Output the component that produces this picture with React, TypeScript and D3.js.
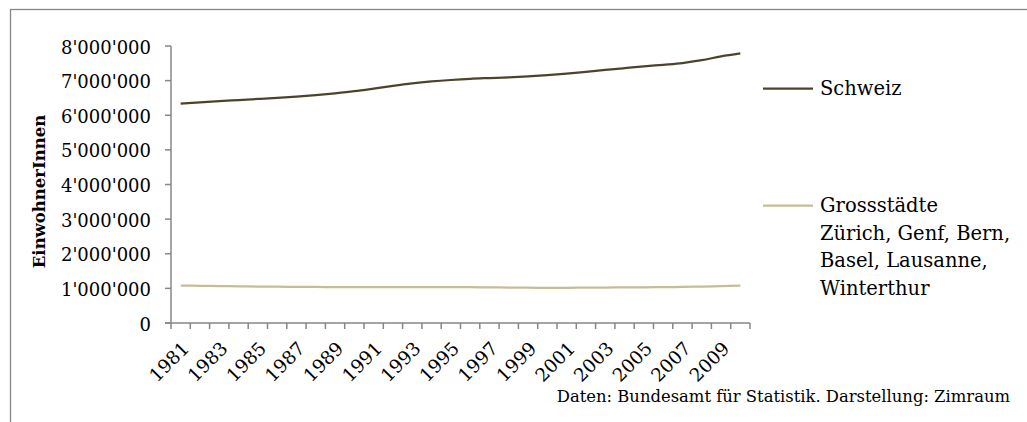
import React from "react";
import * as d3 from "d3";

// Swiss population vs. the six largest cities, 1981–2010
const years: string[] = [
  "1981", "1982", "1983", "1984", "1985", "1986", "1987", "1988", "1989", "1990",
  "1991", "1992", "1993", "1994", "1995", "1996", "1997", "1998", "1999", "2000",
  "2001", "2002", "2003", "2004", "2005", "2006", "2007", "2008", "2009", "2010",
];

const schweiz: number[] = [
  6335000, 6373000, 6408000, 6440000, 6470000, 6503000, 6540000, 6583000, 6635000, 6695000,
  6770000, 6850000, 6920000, 6975000, 7018000, 7052000, 7074000, 7094000, 7122000, 7160000,
  7202000, 7252000, 7308000, 7360000, 7412000, 7458000, 7508000, 7590000, 7700000, 7786000,
];

const grossstaedte: number[] = [
  1080000, 1074000, 1067000, 1060000, 1053000, 1048000, 1044000, 1041000, 1038000, 1036000,
  1035000, 1034000, 1034000, 1034000, 1034000, 1034000, 1030000, 1024000, 1019000, 1017000,
  1018000, 1021000, 1024000, 1027000, 1030000, 1035000, 1042000, 1052000, 1064000, 1078000,
];

const yTicks: number[] = [0, 1000000, 2000000, 3000000, 4000000, 5000000, 6000000, 7000000, 8000000];
const xLabelYears: string[] = years.filter((_, i) => i % 2 === 0);

const seriesNames = ["Schweiz", "Grossstädte"];
const legendLines: string[][] = [
  ["Schweiz"],
  ["Grossstädte", "Zürich, Genf, Bern,", "Basel, Lausanne,", "Winterthur"],
];
const yTitle = "EinwohnerInnen";
const sourceNote = "Daten: Bundesamt für Statistik. Darstellung: Zimraum";

const W = 1027;
const H = 422;
const plot = { left: 171, right: 750, top: 46, bottom: 323 };
const colors = ["#4a452a", "#c4bd97"];
const axisColor = "#878787";
const font = "'DejaVu Serif', serif";

const swissFormat = d3.formatLocale({
  decimal: ".",
  thousands: "'",
  grouping: [3],
  currency: ["", ""],
}).format(",");

export default function App() {
  const x = d3.scaleBand<string>().domain(years).range([plot.left, plot.right]).padding(0);
  const y = d3.scaleLinear().domain([0, 8000000]).range([plot.bottom, plot.top]);
  const cx = (yr: string) => (x(yr) as number) + x.bandwidth() / 2;

  const line = d3
    .line<number>()
    .x((_, i) => cx(years[i]))
    .y((v) => y(v))
    .curve(d3.curveCatmullRom.alpha(0.5));

  const series = [schweiz, grossstaedte];
  const boundaries = d3.range(years.length + 1).map((i) => plot.left + i * x.bandwidth());

  const legendX = 763;
  const legendLineLen = 50;
  const legendY = [88.5, 205.5];
  const lineGap = 27.7;

  return (
    <svg
      width={W}
      height={H}
      style={{ position: "absolute", left: 0, top: 0, background: "#fff" }}
      fontFamily={font}
    >
      {/* chart frame */}
      <rect x={10.5} y={9.5} width={W + 20} height={H + 20} fill="none" stroke={axisColor} strokeWidth={1.3} />

      {/* y axis */}
      <line x1={plot.left} x2={plot.left} y1={y(8000000)} y2={plot.bottom} stroke={axisColor} strokeWidth={1.5} />
      {yTicks.map((t) => (
        <g key={t}>
          <line x1={plot.left - 6} x2={plot.left} y1={y(t)} y2={y(t)} stroke={axisColor} strokeWidth={1.5} />
          <text x={151} y={y(t) + 1} textAnchor="end" dominantBaseline="central" fontSize={18} fill="#000">
            {swissFormat(t)}
          </text>
        </g>
      ))}

      {/* x axis */}
      <line x1={plot.left - 6} x2={plot.right} y1={plot.bottom} y2={plot.bottom} stroke={axisColor} strokeWidth={1.5} />
      {boundaries.map((bx, i) => (
        <line key={i} x1={bx} x2={bx} y1={plot.bottom} y2={plot.bottom + 6} stroke={axisColor} strokeWidth={1.5} />
      ))}
      {xLabelYears.map((yr) => (
        <text
          key={yr}
          transform={`translate(${cx(yr) + 5},${plot.bottom + 22}) rotate(-45)`}
          textAnchor="end"
          dominantBaseline="central"
          fontSize={18.5}
          fill="#000"
        >
          {yr}
        </text>
      ))}

      {/* y axis title */}
      <text
        transform={`translate(45,${(plot.top + plot.bottom) / 2 + 7}) rotate(-90)`}
        textAnchor="middle"
        fontSize={16.5}
        fontWeight="bold"
        fill="#000"
      >
        {yTitle}
      </text>

      {/* series */}
      {series.map((s, i) => (
        <path key={seriesNames[i]} d={line(s) ?? ""} fill="none" stroke={colors[i]} strokeWidth={2.25} />
      ))}

      {/* legend */}
      {legendLines.map((lines, i) => (
        <g key={seriesNames[i]}>
          <line
            x1={legendX}
            x2={legendX + legendLineLen}
            y1={legendY[i]}
            y2={legendY[i]}
            stroke={colors[i]}
            strokeWidth={2.25}
          />
          {lines.map((ln, j) => (
            <text
              key={ln}
              x={820}
              y={legendY[i] + j * lineGap}
              dominantBaseline="central"
              fontSize={19.5}
              fill="#000"
            >
              {ln}
            </text>
          ))}
        </g>
      ))}

      {/* source */}
      <text x={1010} y={401.5} textAnchor="end" fontSize={16.4} fill="#000">
        {sourceNote}
      </text>
    </svg>
  );
}
